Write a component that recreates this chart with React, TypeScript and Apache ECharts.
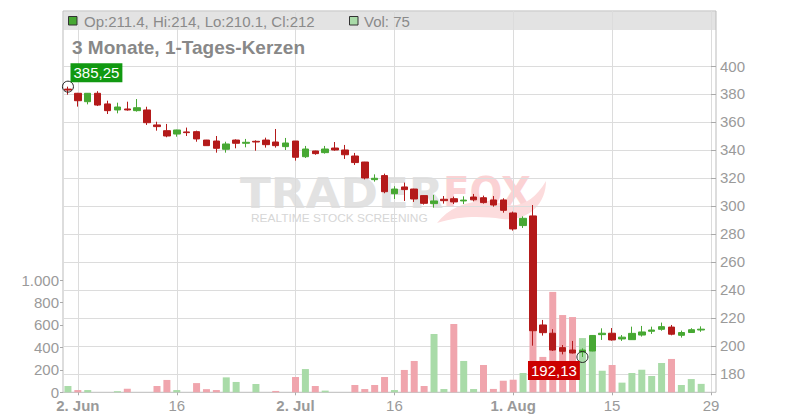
import React, { useEffect, useRef } from 'react';
import * as echarts from 'echarts';

const FONT = '"Liberation Sans", Arial, sans-serif';

// trading days (categories)
const mayDays = [30];
const junDays = [2, 3, 4, 5, 6, 9, 10, 11, 12, 13, 16, 17, 18, 19, 20, 23, 24, 25, 26, 27, 30];
const julDays = [1, 2, 3, 4, 7, 8, 9, 10, 11, 14, 15, 16, 17, 18, 21, 22, 23, 24, 25, 28, 29, 30, 31];
const augDays = [1, 4, 5, 6, 7, 8, 11, 12, 13, 14, 15, 18, 19, 20, 21, 22, 25, 26, 27, 28, 29];

const pad = (d: number) => (d < 10 ? '0' : '') + d;
const dates: string[] = [
  ...mayDays.map((d) => `2025-05-${pad(d)}`),
  ...junDays.map((d) => `2025-06-${pad(d)}`),
  ...julDays.map((d) => `2025-07-${pad(d)}`),
  ...augDays.map((d) => `2025-08-${pad(d)}`),
];

const tickDates = ['2025-06-02', '2025-06-16', '2025-07-02', '2025-07-16', '2025-08-01', '2025-08-15', '2025-08-29'];
const tickLabels = ['2. Jun', '16', '2. Jul', '16', '1. Aug', '15', '29'];

const opens = [
  383.5, 380.5, 374.5, 380.5, 372.9, 368.6, 369.3, 368.1, 368.6, 357.9,
  353.8, 351.4, 352.9, 353.1, 347.1, 346.4, 340.5, 347.1, 344.8, 346.2,
  347.1, 345.7, 342.4, 346.4, 335.2, 339.3, 338.1, 341.4, 340.0, 335.7,
  331.4, 318.8, 321.7, 308.8, 313.6, 312.1, 307.4, 301.7, 304.8, 305.2,
  303.6, 306.4, 305.9, 304.3, 304.3, 295.0, 286.0, 292.9, 215.0, 209.1,
  198.8, 197.1, 195.7, 196.4, 208.1, 209.1, 205.0, 204.5, 207.8, 210.5,
  211.9, 213.5, 207.6, 209.6, 211.4,
];
const highs = [
  385.25, 380.8, 380.7, 382.0, 375.2, 373.8, 374.5, 376.4, 370.9, 360.2,
  358.6, 354.5, 356.0, 353.8, 347.2, 350.0, 345.9, 347.6, 347.9, 346.9,
  348.8, 355.0, 348.6, 346.4, 342.9, 339.5, 342.9, 345.7, 343.6, 337.9,
  331.5, 322.6, 323.1, 314.1, 316.7, 312.3, 307.6, 307.9, 307.1, 306.7,
  306.9, 308.6, 307.4, 307.1, 305.5, 296.0, 292.6, 300.7, 218.6, 212.0,
  200.7, 203.6, 198.3, 207.6, 212.6, 212.8, 207.8, 213.8, 214.3, 213.8,
  216.7, 215.0, 211.0, 212.7, 214,
];
const lows = [
  379.5, 371.0, 372.6, 371.4, 365.7, 366.2, 368.1, 367.4, 357.9, 353.8,
  349.1, 349.5, 350.0, 345.9, 343.0, 338.1, 338.1, 341.2, 341.9, 339.5,
  341.7, 341.7, 340.0, 332.4, 334.3, 336.6, 337.4, 339.5, 333.6, 329.3,
  319.0, 317.4, 309.1, 305.0, 303.6, 302.9, 301.0, 298.8, 301.7, 301.4,
  301.4, 303.3, 301.7, 299.5, 295.2, 282.4, 284.3, 200.2, 207.4, 196.4,
  194.0, 194.6, 192.13, 196.2, 204.3, 203.8, 203.6, 204.3, 206.7, 208.6,
  210.9, 207.6, 206.0, 209.3, 210.1,
];
const closes = [
  382.8, 375.2, 380.5, 372.1, 368.1, 370.7, 368.6, 370.2, 359.5, 356.7,
  350.0, 354.3, 352.4, 347.9, 343.1, 341.2, 344.3, 344.8, 345.5, 345.7,
  343.8, 343.1, 345.0, 334.8, 340.7, 337.4, 340.7, 340.0, 336.6, 331.0,
  320.0, 319.8, 310.2, 312.1, 311.7, 305.0, 301.9, 303.6, 303.8, 302.9,
  304.2, 304.4, 302.4, 300.7, 296.9, 283.6, 291.2, 210.9, 209.5, 197.1,
  196.2, 195.0, 197.1, 207.5, 209.1, 204.3, 206.3, 209.0, 210.0, 211.4,
  213.8, 208.4, 209.6, 211.6, 212,
];
const volumes = [
  56, 20, 20, 0, 0, 10, 32, 0, 0, 56,
  110, 20, 0, 82, 28, 20, 133, 92, 0, 74,
  0, 12, 0, 136, 207, 56, 15, 0, 0, 65,
  29, 65, 136, 20, 199, 279, 56, 519, 29, 608,
  279, 29, 243, 30, 103, 112, 172, 700, 315, 894,
  688, 670, 483, 420, 192, 243, 86, 172, 201, 145,
  261, 297, 65, 118, 75,
];
const prevClose = 380;

const volTicks = [0, 200, 400, 600, 800, 1000];

const UP = '#47a833';
const DOWN = '#b41a1a';
const VOL_UP = '#a9dba8';
const VOL_DOWN = '#f0a5ad';
const AXIS_TEXT = '#9a9a9a';
const GRID_LINE = '#dcdcdc';

echarts.graphic.registerShape(
  'foxTail',
  echarts.graphic.extendPath(
    'M437 223 C 452 204, 478 197, 503 204 C 520 209, 535 200, 546 181 C 546 204, 528 222, 502 219 C 480 216, 460 216, 437 223 Z',
    {}
  )
);

export default function App() {
  const ref = useRef<HTMLDivElement>(null);

  useEffect(() => {
    document.body.style.margin = '0';
    if (!ref.current) return;
    const chart = echarts.init(ref.current, undefined, { renderer: 'svg' });

    const last = closes.length - 1;
    let maxIdx = 0;
    let minIdx = 0;
    highs.forEach((h, i) => { if (h > highs[maxIdx]) maxIdx = i; });
    lows.forEach((l, i) => { if (l < lows[minIdx]) minIdx = i; });

    const volUp = (i: number) => closes[i] >= (i === 0 ? prevClose : closes[i - 1]);
    const showTick = (_i: number, v: string) => tickDates.includes(v);

    const fmtVol = (v: number) => (v >= 1000 ? `${Math.floor(v / 1000)}.${String(v % 1000).padStart(3, '0')}` : String(v));

    const option: any = {
      animation: false,
      textStyle: { fontFamily: FONT },
      grid: [
        { left: 63, right: 84, top: 66, bottom: 27.7 },
        { left: 63, right: 84, top: 280, bottom: 27.7 },
        { left: 63, right: 84, top: 11, bottom: 27.7, show: true, borderColor: '#bbbbbb', borderWidth: 1, backgroundColor: 'rgba(0,0,0,0)' },
      ],
      xAxis: [
        { type: 'category', gridIndex: 0, data: dates, show: false, boundaryGap: true },
        { type: 'category', gridIndex: 1, data: dates, show: false, boundaryGap: true },
        {
          type: 'category',
          gridIndex: 2,
          data: dates,
          boundaryGap: true,
          axisLine: { show: false },
          axisTick: { show: true, interval: showTick, alignWithLabel: true, length: 3, lineStyle: { color: '#aaaaaa' } },
          axisLabel: {
            interval: showTick,
            margin: 6,
            color: AXIS_TEXT,
            fontSize: 15,
            fontFamily: FONT,
            formatter: (v: string) => {
              const lbl = tickLabels[tickDates.indexOf(v)] || '';
              return lbl.includes('.') ? `{b|${lbl}}` : lbl;
            },
            rich: { b: { fontWeight: 'bold', color: AXIS_TEXT, fontSize: 15, fontFamily: FONT } },
          },
          splitLine: { show: true, interval: showTick, alignWithLabel: true, lineStyle: { color: GRID_LINE, width: 1 } },
        },
      ],
      yAxis: [
        {
          type: 'value',
          gridIndex: 0,
          position: 'right',
          min: 166.9,
          max: 400,
          splitNumber: 12,
          minInterval: 20,
          maxInterval: 20,
          axisLine: { show: false },
          axisTick: { show: true, inside: true, length: 5, lineStyle: { color: '#aaaaaa' } },
          axisLabel: { color: AXIS_TEXT, fontSize: 15, margin: 4, showMinLabel: false, showMaxLabel: true, fontFamily: FONT },
          splitLine: { show: true, showMinLine: false, lineStyle: { color: GRID_LINE, width: 1 } },
        },
        {
          type: 'value',
          gridIndex: 1,
          position: 'left',
          min: volTicks[0],
          max: volTicks[volTicks.length - 1],
          interval: volTicks[1] - volTicks[0],
          axisLine: { show: false },
          axisTick: { show: true, length: 3, lineStyle: { color: '#aaaaaa' } },
          axisLabel: { color: AXIS_TEXT, fontSize: 15, margin: 4, formatter: fmtVol, fontFamily: FONT },
          splitLine: { show: false },
        },
        { type: 'value', gridIndex: 2, show: false, min: 0, max: 1 },
      ],
      series: [
        {
          type: 'bar',
          xAxisIndex: 1,
          yAxisIndex: 1,
          barWidth: 7,
          silent: true,
          data: volumes.map((v, i) => ({ value: v, itemStyle: { color: volUp(i) ? VOL_UP : VOL_DOWN } })),
        },
        {
          type: 'candlestick',
          xAxisIndex: 0,
          yAxisIndex: 0,
          barWidth: 7,
          data: opens.map((o, i) => [o, closes[i], lows[i], highs[i]]),
          itemStyle: { color: UP, color0: DOWN, borderColor: UP, borderColor0: DOWN, borderWidth: 1 },
          markPoint: {
            symbol: 'circle',
            symbolSize: 11,
            itemStyle: { color: 'rgba(255,255,255,0)', borderColor: '#222222', borderWidth: 1 },
            label: {
              show: true,
              position: 'inside',
              color: '#ffffff',
              fontSize: 15,
              fontFamily: FONT,
              padding: [2, 3, 2, 3],
              formatter: (p: any) => Number(p.value).toFixed(2).replace('.', ','),
            },
            data: [
              { coord: [dates[maxIdx], highs[maxIdx]], value: highs[maxIdx], label: { offset: [28.5, -14], backgroundColor: '#119911' } },
              { coord: [dates[minIdx], lows[minIdx]], value: lows[minIdx], label: { offset: [-28.5, 13.5], backgroundColor: '#cc0000' } },
            ],
          },
        },
      ],
      graphic: [
        { type: 'rect', z: -1, shape: { x: 63.5, y: 11.5, width: 652.5, height: 18.5 }, style: { fill: '#e3e3e3' } },
        // watermark
        { type: 'text', z: -1, x: 240, y: 192.5, scaleX: 1.05, style: { text: 'TRADER', fill: '#e2e2e2', font: 'bold 43px "DejaVu Sans"', verticalAlign: 'middle', align: 'left' } },
        { type: 'text', z: -1, x: 443, y: 192.5, scaleX: 0.9, style: { text: 'FOX', fill: '#fbd2d4', font: 'bold 43px "DejaVu Sans"', verticalAlign: 'middle', align: 'left' } },
        { type: 'foxTail', z: -1, x: 0, y: 0, style: { fill: '#fcdcdd' } },
        { type: 'text', z: -1, x: 251, y: 218.7, scaleX: 1.19, style: { text: 'REALTIME STOCK SCREENING', fill: '#d6d6d6', font: '10px "Liberation Sans"', verticalAlign: 'middle', align: 'left' } },
        // header legend
        { type: 'rect', z: 10, shape: { x: 68.5, y: 16.5, width: 8.5, height: 8.5 }, style: { fill: closes[last] >= opens[last] ? UP : DOWN, stroke: '#333333', lineWidth: 1 } },
        { type: 'text', z: 10, x: 84, y: 21.5, style: { text: `Op:${opens[last]}, Hi:${highs[last]}, Lo:${lows[last]}, Cl:${closes[last]}`, fill: '#8a8a8a', font: `15px ${FONT}`, verticalAlign: 'middle', align: 'left' } },
        { type: 'rect', z: 10, shape: { x: 349.5, y: 16.5, width: 8.5, height: 8.5 }, style: { fill: volUp(last) ? VOL_UP : VOL_DOWN, stroke: '#333333', lineWidth: 1 } },
        { type: 'text', z: 10, x: 364, y: 21.5, style: { text: `Vol: ${volumes[last]}`, fill: '#8a8a8a', font: `15px ${FONT}`, verticalAlign: 'middle', align: 'left' } },
        // title
        { type: 'text', z: 10, x: 72, y: 47.2, style: { text: '3 Monate, 1-Tages-Kerzen', fill: '#888888', font: `bold 19px ${FONT}`, verticalAlign: 'middle', align: 'left' } },
      ],
    };

    chart.setOption(option);
    return () => chart.dispose();
  }, []);

  return <div ref={ref} style={{ width: 800, height: 420 }} />;
}
